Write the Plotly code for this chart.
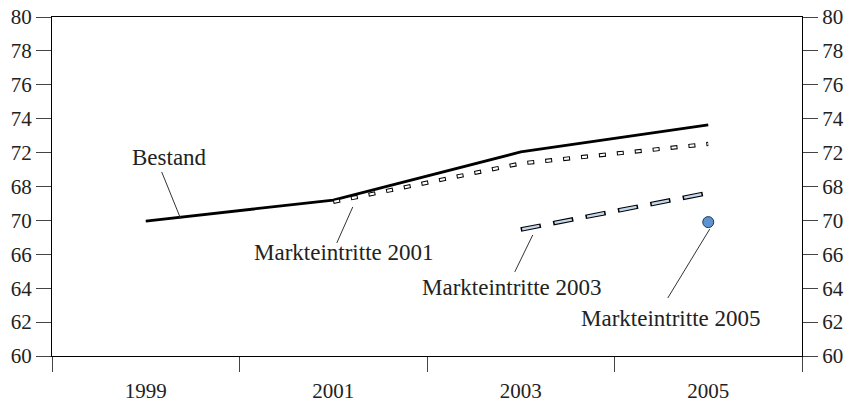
"""Bestand vs. Markteintritte line chart."""

import plotly.graph_objects as go

years = ["1999", "2001", "2003", "2005"]
bestand = [67.96, 69.2, 72.04, 73.63]
markt_2001_years = ["2001", "2003", "2005"]
markt_2001 = [69.09, 71.36, 72.51]
markt_2003_years = ["2003", "2005"]
markt_2003 = [67.46, 69.62]
markt_2005_years = ["2005"]
markt_2005 = [67.9]

y_tickvals = [60, 62, 64, 66, 68, 70, 72, 74, 76, 78, 80]
# labels as printed in the original (70 and 68 appear swapped)
y_ticktext = ["60", "62", "64", "66", "70", "68", "72", "74", "76", "78", "80"]

FONT = "Liberation Serif"
TEXT_COLOR = "#222222"

fig = go.Figure()

fig.add_trace(
    go.Scatter(
        x=years,
        y=bestand,
        mode="lines",
        line={"color": "black", "width": 2.8},
        showlegend=False,
        hoverinfo="skip",
    )
)

# dotted series: outlined small white boxes
fig.add_trace(
    go.Scatter(
        x=markt_2001_years,
        y=markt_2001,
        mode="lines",
        line={"color": "black", "width": 4.2, "dash": "7px,11px"},
        showlegend=False,
        hoverinfo="skip",
    )
)
fig.add_trace(
    go.Scatter(
        x=markt_2001_years,
        y=markt_2001,
        mode="lines",
        line={"color": "white", "width": 2.2, "dash": "0px,1px,5px,12px"},
        showlegend=False,
        hoverinfo="skip",
    )
)

# dashed series: outlined light blue dashes
fig.add_trace(
    go.Scatter(
        x=markt_2003_years,
        y=markt_2003,
        mode="lines",
        line={"color": "black", "width": 4.5, "dash": "20.5px,12.5px"},
        showlegend=False,
        hoverinfo="skip",
    )
)
fig.add_trace(
    go.Scatter(
        x=markt_2003_years,
        y=markt_2003,
        mode="lines",
        line={"color": "#c3d8ef", "width": 2.4, "dash": "0px,1.5px,17.5px,14px"},
        showlegend=False,
        hoverinfo="skip",
    )
)

fig.add_trace(
    go.Scatter(
        x=markt_2005_years,
        y=markt_2005,
        mode="markers",
        marker={"color": "#5f93cf", "size": 11, "line": {"color": "#1f3a5c", "width": 1}},
        showlegend=False,
        hoverinfo="skip",
        yaxis="y2",
    )
)

labels = [
    ("Bestand", 0.128, 71.74, (0.085, 70.86, 0.187, 68.08)),
    ("Markteintritte 2001", 1.056, 66.08, (1.104, 68.79, 1.019, 66.67)),
    ("Markteintritte 2003", 1.952, 64.07, (2.064, 67.14, 1.968, 64.96)),
    ("Markteintritte 2005", 2.8, 62.24, (3.008, 67.49, 2.784, 63.42)),
]
for text, tx, ty, (x0, y0, x1, y1) in labels:
    fig.add_annotation(
        x=tx,
        y=ty,
        xref="x",
        yref="y",
        text=text,
        showarrow=False,
        font={"family": FONT, "size": 23, "color": TEXT_COLOR},
    )
    fig.add_shape(
        type="line",
        xref="x",
        yref="y",
        x0=x0,
        y0=y0,
        x1=x1,
        y1=y1,
        line={"color": "#333333", "width": 1},
    )

y_common = dict(
    range=[60, 80],
    tickmode="array",
    tickvals=y_tickvals,
    ticktext=y_ticktext,
    ticks="outside",
    ticklen=15,
    tickcolor="#444444",
    showline=True,
    linecolor="black",
    linewidth=1,
    showgrid=False,
    zeroline=False,
    automargin=False,
    tickfont={"family": FONT, "size": 21, "color": TEXT_COLOR},
)

fig.update_layout(
    width=849,
    height=402,
    margin={"l": 52, "r": 47, "t": 17, "b": 46},
    paper_bgcolor="white",
    plot_bgcolor="white",
    showlegend=False,
    xaxis=dict(
        type="category",
        categoryorder="array",
        categoryarray=years,
        range=[-0.5, 3.5],
        tickson="boundaries",
        ticks="outside",
        ticklen=15,
        tickcolor="#444444",
        showline=True,
        mirror=True,
        linecolor="black",
        linewidth=1,
        showgrid=False,
        zeroline=False,
        automargin=False,
        ticklabelstandoff=16,
        tickfont={"family": FONT, "size": 21, "color": TEXT_COLOR},
    ),
    yaxis=dict(side="left", **y_common),
    yaxis2=dict(side="right", overlaying="y", anchor="x", **y_common),
)

# drop the default page margin so the figure sits at the window's corner
fig.write_html(
    "out.html",
    config={"displayModeBar": False},
    post_script="document.body.style.margin='0';document.body.style.overflow='hidden';",
)
